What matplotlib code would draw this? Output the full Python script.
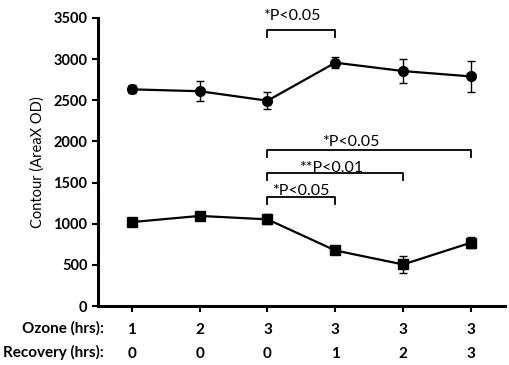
import matplotlib
matplotlib.use("Agg")
import matplotlib.pyplot as plt

plt.rcParams['font.family'] = ['Lato', 'DejaVu Sans']

x_pos = [1, 2, 3, 4, 5, 6]
ozone_labels = ['1', '2', '3', '3', '3', '3']
recovery_labels = ['0', '0', '0', '1', '2', '3']

circle_vals = [2633, 2610, 2495, 2957, 2855, 2790]
circle_err = [50, 120, 100, 70, 150, 190]
square_vals = [1020, 1095, 1053, 675, 505, 770]
square_err = [50, 30, 60, 30, 100, 70]

yticks = [0, 500, 1000, 1500, 2000, 2500, 3000, 3500]

# significance brackets: (x_start, x_end, y_line, label, text_x, text_y)
brackets = [
    (3, 4, 3355, '*P<0.05', 2.93, 3475),
    (3, 6, 1895, '*P<0.05', 3.80, 1944),
    (3, 5, 1615, '**P<0.01', 3.47, 1628),
    (3, 4, 1320, '*P<0.05', 3.07, 1349),
]

fig = plt.figure(figsize=(5.1, 3.65), dpi=100)
ax = fig.add_axes([0.192, 0.1616, 0.798, 0.7891])

ax.errorbar(x_pos, circle_vals, yerr=circle_err, color='black', marker='o',
            markersize=7, lw=1.6, elinewidth=1.0, capsize=3, capthick=1.0)
ax.errorbar(x_pos, square_vals, yerr=square_err, color='black', marker='s',
            markersize=6.5, lw=1.6, elinewidth=1.0, capsize=3, capthick=1.0)

ax.set_xlim(0.5, 6.5)
ax.set_ylim(0, 3500)
ax.set_yticks(yticks)
ax.set_yticklabels([str(v) for v in yticks], fontweight='bold', fontsize=10.5)
ax.set_xticks(x_pos)
ax.set_xticklabels([])
ax.tick_params(axis='both', direction='out', length=4, width=1.5, color='black')
for s in ['top', 'right']:
    ax.spines[s].set_visible(False)
for s in ['left', 'bottom']:
    ax.spines[s].set_linewidth(2.2)
ax.set_ylabel('Contour (AreaX OD)', fontsize=10.5, labelpad=6)

for x0, x1, yl, lab, tx, ty in brackets:
    tick = 85
    ax.plot([x0, x0, x1, x1], [yl - tick, yl, yl, yl - tick], color='black',
            lw=1.3, clip_on=False)
    ax.text(tx, ty, lab, ha='left', va='baseline', fontsize=11.5,
            clip_on=False)

# bottom category table
trans = ax.get_xaxis_transform()
for xp, oz, rc in zip(x_pos, ozone_labels, recovery_labels):
    ax.text(xp, -0.083, oz, transform=trans, ha='center', va='center',
            fontweight='bold', fontsize=11)
    ax.text(xp, -0.167, rc, transform=trans, ha='center', va='center',
            fontweight='bold', fontsize=11)
fig.text(104 / 510, 1 - 328 / 365, 'Ozone (hrs):', ha='right', va='center',
         fontweight='bold', fontsize=11)
fig.text(104 / 510, 1 - 352 / 365, 'Recovery (hrs):', ha='right', va='center',
         fontweight='bold', fontsize=11)

fig.savefig('out.png', dpi=100)
